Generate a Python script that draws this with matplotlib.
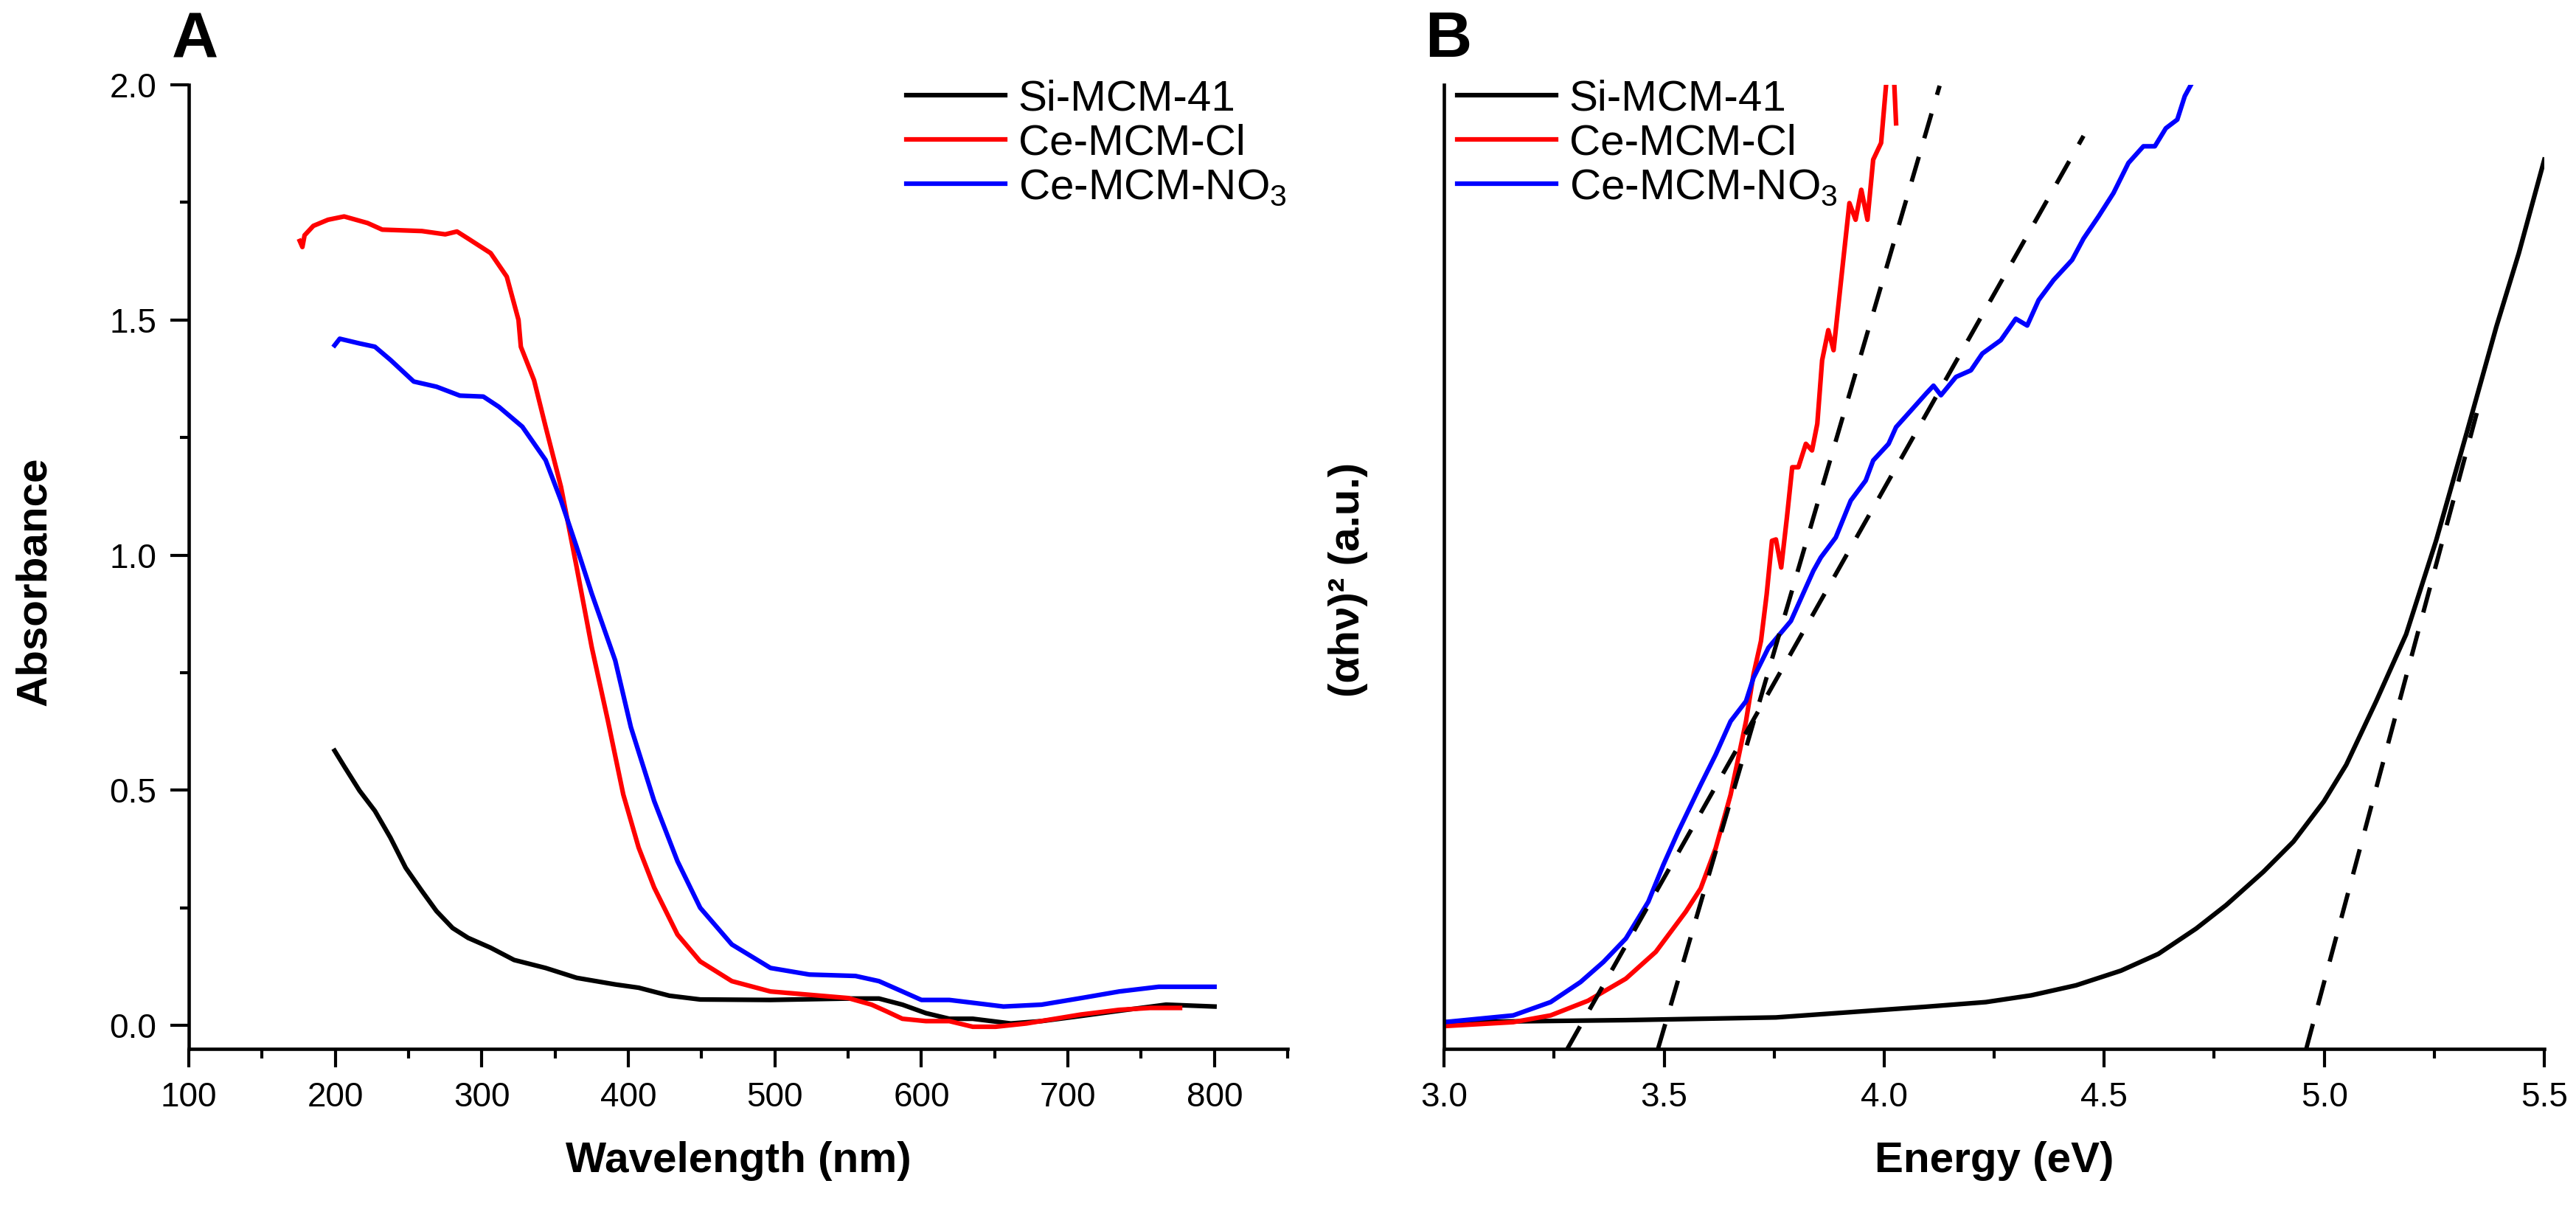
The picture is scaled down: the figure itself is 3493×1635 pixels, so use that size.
import numpy as np
import matplotlib
matplotlib.use("Agg")
from matplotlib import pyplot as plt
from matplotlib.ticker import MultipleLocator

plt.rcParams['font.family'] = ['Liberation Sans', 'DejaVu Sans']
plt.rcParams['mathtext.fontset'] = 'custom'
plt.rcParams['mathtext.rm'] = 'Liberation Sans'
plt.rcParams['mathtext.it'] = 'Liberation Sans:italic'
plt.rcParams['mathtext.bf'] = 'Liberation Sans:bold'

labels = ['Si-MCM-41', 'Ce-MCM-Cl', 'Ce-MCM-NO$_3$']
colors = ['black', 'red', 'blue']

# panel A: absorbance vs wavelength (nm)
si_wl = [199.5, 206, 216.5, 227, 237.6, 248, 259, 269, 280, 290.6, 306, 322, 343.5, 364.7, 391, 407, 428, 449,
         497, 550, 571, 587, 603, 619, 635, 661, 682, 709, 735, 767, 800]
si_abs = [0.584, 0.551, 0.499, 0.456, 0.399, 0.335, 0.286, 0.243, 0.207, 0.186, 0.165, 0.139, 0.122, 0.101, 0.087,
          0.080, 0.063, 0.055, 0.054, 0.057, 0.057, 0.044, 0.026, 0.014, 0.014, 0.004, 0.009, 0.020, 0.031, 0.044, 0.040]

cl_wl = [175.7, 177.5, 179, 185, 195, 206, 222, 232, 259, 275, 283, 290.6, 306, 317, 325, 326.6, 335.6, 343.5, 354,
         364.7, 375, 386, 396.5, 407, 417.6, 433.5, 449, 470.6, 497, 523.5, 550, 566, 576, 587, 603, 619, 635, 650.6,
         671.7, 708.8, 735, 756, 776.5]
cl_abs = [1.668, 1.655, 1.68, 1.70, 1.713, 1.72, 1.706, 1.692, 1.689, 1.682, 1.688, 1.673, 1.642, 1.592, 1.50, 1.443,
          1.372, 1.273, 1.145, 0.974, 0.804, 0.648, 0.491, 0.378, 0.293, 0.193, 0.136, 0.094, 0.072, 0.065, 0.058,
          0.044, 0.030, 0.014, 0.009, 0.009, -0.003, -0.003, 0.004, 0.023, 0.033, 0.037, 0.037]

no3_wl = [199.5, 203, 216.5, 227, 237.6, 253.5, 269, 285, 301, 311.7, 327.6, 343.5, 354, 364.7, 375, 391, 401.7, 417.6,
          433.5, 449, 470.6, 497, 523.5, 555, 571, 587, 600, 619, 635, 656, 682, 709, 735, 762, 800]
no3_abs = [1.446, 1.460, 1.45, 1.443, 1.415, 1.369, 1.358, 1.339, 1.337, 1.315, 1.273, 1.202, 1.116, 1.017, 0.918,
           0.776, 0.634, 0.477, 0.349, 0.25, 0.172, 0.122, 0.108, 0.105, 0.094, 0.072, 0.054, 0.054, 0.048, 0.040,
           0.044, 0.058, 0.072, 0.082, 0.082]

# panel B: (alpha h nu)^2 vs energy (eV), arbitrary units
si_ev = [3.0, 3.413, 3.754, 3.924, 4.095, 4.231, 4.334, 4.436, 4.538, 4.623, 4.709, 4.777, 4.862, 4.930, 4.999, 5.050,
         5.118, 5.186, 5.254, 5.323, 5.391, 5.442, 5.5]
si_tauc = [0.277, 0.298, 0.326, 0.381, 0.437, 0.485, 0.555, 0.659, 0.811, 0.985, 1.248, 1.491, 1.838, 2.150, 2.566,
           2.947, 3.606, 4.300, 5.270, 6.380, 7.490, 8.252, 9.223]

cl_ev = [3.0, 3.157, 3.242, 3.327, 3.413, 3.481, 3.549, 3.583, 3.617, 3.651, 3.686, 3.703, 3.720, 3.733, 3.745, 3.754,
         3.766, 3.779, 3.791, 3.805, 3.822, 3.836, 3.848, 3.859, 3.873, 3.885, 3.907, 3.921, 3.935, 3.948, 3.962,
         3.975, 3.993, 4.010, 4.020, 4.027]
cl_tauc = [0.236, 0.277, 0.347, 0.499, 0.728, 1.006, 1.422, 1.664, 2.080, 2.635, 3.398, 3.883, 4.230, 4.716, 5.270,
           5.284, 4.993, 5.513, 6.033, 6.033, 6.276, 6.207, 6.484, 7.143, 7.455, 7.247, 8.183, 8.773, 8.6, 8.911, 8.6,
           9.223, 9.397, 10.3, 10.3, 9.6]

no3_ev = [3.0, 3.157, 3.242, 3.310, 3.362, 3.413, 3.464, 3.498, 3.532, 3.583, 3.617, 3.651, 3.686, 3.703, 3.737, 3.788,
          3.822, 3.839, 3.856, 3.890, 3.924, 3.958, 3.975, 4.010, 4.027, 4.061, 4.095, 4.112, 4.129, 4.163, 4.197,
          4.223, 4.265, 4.299, 4.325, 4.351, 4.385, 4.427, 4.453, 4.487, 4.521, 4.555, 4.589, 4.615, 4.640, 4.666,
          4.683, 4.709]
no3_tauc = [0.277, 0.347, 0.485, 0.693, 0.901, 1.144, 1.526, 1.907, 2.254, 2.739, 3.051, 3.398, 3.606, 3.849, 4.161,
            4.438, 4.785, 4.958, 5.097, 5.305, 5.687, 5.895, 6.103, 6.276, 6.449, 6.622, 6.796, 6.879, 6.78, 6.969,
            7.038, 7.212, 7.351, 7.573, 7.503, 7.767, 7.975, 8.183, 8.405, 8.634, 8.877, 9.189, 9.362, 9.362, 9.549,
            9.639, 9.882, 10.1]

# linear band-gap extrapolations (start, end)
fit_si_ev = [4.959, 5.348]
fit_si_tauc = [0.0, 6.62]
fit_cl_ev = [3.486, 4.126]
fit_cl_tauc = [0.0, 9.99]
fit_no3_ev = [3.280, 4.453]
fit_no3_tauc = [0.0, 9.47]

fig = plt.figure(figsize=(3493 / 300, 1635 / 300), dpi=300)
axA = fig.add_axes([0.0733, 0.1303, 0.4266, 0.7994])
axB = fig.add_axes([0.5606, 0.1303, 0.4271, 0.7994])

lw = 1.5
axA.plot(si_wl, si_abs, color=colors[0], lw=lw, label=labels[0])
axA.plot(cl_wl, cl_abs, color=colors[1], lw=lw, label=labels[1])
axA.plot(no3_wl, no3_abs, color=colors[2], lw=lw, label=labels[2])

axB.plot(si_ev, si_tauc, color=colors[0], lw=lw, label=labels[0])
axB.plot(cl_ev, cl_tauc, color=colors[1], lw=lw, label=labels[1])
axB.plot(no3_ev, no3_tauc, color=colors[2], lw=lw, label=labels[2])
for xs, ys in [(fit_si_ev, fit_si_tauc), (fit_cl_ev, fit_cl_tauc), (fit_no3_ev, fit_no3_tauc)]:
    axB.plot(xs, ys, color='black', lw=1.4, ls=(0, (6, 4.5)))

axA.set_xlim(100, 850)
axA.set_ylim(-0.05, 2.0)
axA.xaxis.set_major_locator(MultipleLocator(100))
axA.xaxis.set_minor_locator(MultipleLocator(50))
axA.yaxis.set_major_locator(MultipleLocator(0.5))
axA.yaxis.set_minor_locator(MultipleLocator(0.25))
axA.yaxis.set_major_formatter(lambda v, p: f'{v:.1f}')

axB.set_xlim(3.0, 5.5)
axB.set_ylim(0, 10)
axB.xaxis.set_major_locator(MultipleLocator(0.5))
axB.xaxis.set_minor_locator(MultipleLocator(0.25))
axB.xaxis.set_major_formatter(lambda v, p: f'{v:.1f}')
axB.set_yticks([])

for ax in (axA, axB):
    for s in ('top', 'right'):
        ax.spines[s].set_visible(False)
    for s in ('left', 'bottom'):
        ax.spines[s].set_linewidth(1.1)
    ax.tick_params(which='major', direction='out', length=6, width=1.0, labelsize=11, pad=4.5)
    ax.tick_params(which='minor', direction='out', length=3, width=1.0)

axA.set_xlabel('Wavelength (nm)', fontsize=14, fontweight='bold', labelpad=9)
axA.set_ylabel('Absorbance', fontsize=14, fontweight='bold')
axA.yaxis.set_label_coords(-0.122, 0.485)
axB.set_xlabel('Energy (eV)', fontsize=14, fontweight='bold', labelpad=9)
axB.set_ylabel('(αhν)² (a.u.)', fontsize=14, fontweight='bold')
axB.yaxis.set_label_coords(-0.069, 0.487)

leg_kw = dict(frameon=False, fontsize=14, handlelength=2.3, handletextpad=0.3, labelspacing=0.1,
              borderpad=0, borderaxespad=0, loc='upper left')
axA.legend(bbox_to_anchor=(0.3518, 0.934), bbox_transform=fig.transFigure, **leg_kw)
axB.legend(bbox_to_anchor=(0.5657, 0.934), bbox_transform=fig.transFigure, **leg_kw)

fig.text(264 / 3493, 1 - 77 / 1635, 'A', fontsize=21, fontweight='bold', ha='center', va='baseline')
fig.text(1964 / 3493, 1 - 77 / 1635, 'B', fontsize=21, fontweight='bold', ha='center', va='baseline')

fig.savefig('out.png', dpi=300)
